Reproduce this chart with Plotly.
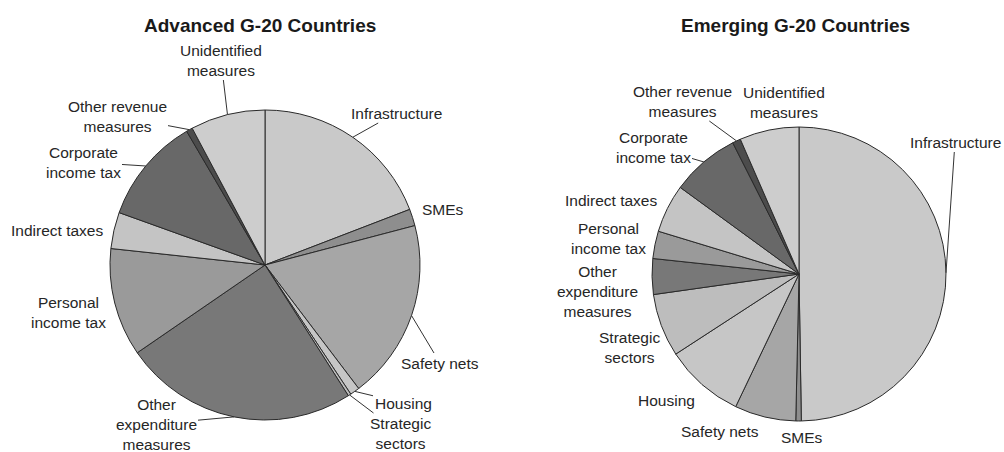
import math
import plotly.graph_objects as go

categories = ["Infrastructure", "SMEs", "Safety nets", "Housing", "Strategic sectors",
              "Other expenditure measures", "Personal income tax", "Indirect taxes",
              "Corporate income tax", "Other revenue measures", "Unidentified measures"]
label_text = ["Infrastructure", "SMEs", "Safety nets", "Housing", "Strategic<br>sectors",
              "Other<br>expenditure<br>measures", "Personal<br>income tax", "Indirect taxes",
              "Corporate<br>income tax", "Other revenue<br>measures", "Unidentified<br>measures"]
advanced = [19.2, 1.75, 18.8, 1.0, 0.3, 24.5, 11.3, 3.8, 11.1, 0.65, 7.8]
emerging = [49.5, 0.6, 6.7, 8.7, 6.9, 3.9, 3.0, 5.3, 7.5, 0.9, 6.5]
titles = ["Advanced G-20 Countries", "Emerging G-20 Countries"]

# style
colors = ["#c9c9c9", "#8e8e8e", "#a6a6a6", "#c6c6c6", "#bdbdbd", "#787878",
          "#9a9a9a", "#c4c4c4", "#686868", "#4c4c4c", "#cdcdcd"]
W, H = 1004, 452
FONT = "Liberation Sans, Arial, sans-serif"
LABEL_SIZE = 15.5
pies = [
    dict(cx=265, cy=265, r=155, title_pos=(260, 25),
         labels=[(396, 113, True), (443, 209, False), (440, 363, True), (403, 403, True),
                 (400, 433, True), (156, 424, True), (68, 312, False), (57, 231, False),
                 (83, 162, True), (117, 116, True), (221, 60, True)]),
    dict(cx=799, cy=274, r=147, title_pos=(795, 25),
         labels=[(955, 142, True), (802, 437, False), (720, 431, False), (666, 400, False),
                 (629, 347, False), (597, 291, False), (608, 238, False), (611, 200, False),
                 (653, 147, True), (682, 101, True), (784, 102, False)]),
]

fig = go.Figure()
annotations = []
for values, p, title in zip([advanced, emerging], pies, titles):
    cx, cy, r = p["cx"], p["cy"], p["r"]
    fig.add_trace(go.Pie(
        labels=categories, values=values, sort=False, direction="clockwise", rotation=0,
        marker=dict(colors=colors, line=dict(color="#2a2a2a", width=1)),
        textinfo="none", hoverinfo="label+value", showlegend=False,
        domain=dict(x=[(cx - r) / W, (cx + r) / W], y=[1 - (cy + r) / H, 1 - (cy - r) / H]),
    ))
    total = sum(values)
    cum = 0.0
    for v, txt, (lx, ly, line) in zip(values, label_text, p["labels"]):
        mid = (cum + v / 2) / total * 2 * math.pi
        cum += v
        hx = cx + r * math.sin(mid)
        hy = cy - r * math.cos(mid)
        if line:
            annotations.append(dict(
                xref="paper", yref="paper", x=hx / W, y=1 - hy / H,
                ax=lx - hx, ay=ly - hy, axref="pixel", ayref="pixel",
                text=txt, showarrow=True, arrowhead=0, arrowwidth=1, arrowcolor="#333333",
                standoff=0, font=dict(family=FONT, size=LABEL_SIZE, color="#262626"),
            ))
        else:
            annotations.append(dict(
                xref="paper", yref="paper", x=lx / W, y=1 - ly / H,
                xanchor="center", yanchor="middle", text=txt, showarrow=False,
                font=dict(family=FONT, size=LABEL_SIZE, color="#262626"),
            ))
    tx, ty = p["title_pos"]
    annotations.append(dict(
        xref="paper", yref="paper", x=tx / W, y=1 - ty / H, xanchor="center", yanchor="middle",
        text="<b>" + title + "</b>", showarrow=False,
        font=dict(family=FONT, size=19, color="#1a1a1a"),
    ))

fig.update_layout(
    width=W, height=H, margin=dict(l=0, r=0, t=0, b=0),
    paper_bgcolor="white", plot_bgcolor="white",
    annotations=annotations,
)
fig.write_html("out.html")
